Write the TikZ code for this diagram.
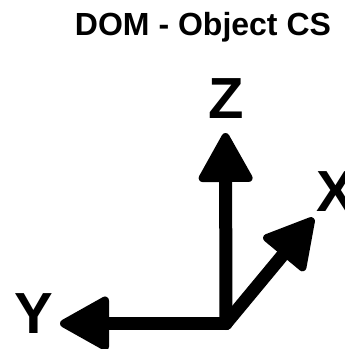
\documentclass[tikz,border=0pt]{standalone}
\usepackage{fontspec}
\setmainfont{Liberation Sans}
\usetikzlibrary{calc}
% shaft from the origin plus a filled, round-cornered triangular head
\newcommand\drawaxis[1]{%
  \coordinate (#1-t) at ($(#1)!4pt!(O)$);
  \coordinate (#1-b) at ($(#1)!45pt!(O)$);
  \draw[shaft] (O) -- (#1-b);
  \filldraw[head] (#1-t) -- ($(#1-b)!23pt!90:(#1)$) -- ($(#1-b)!23pt!-90:(#1)$) -- cycle;
}
\begin{document}
\begin{tikzpicture}[x=1pt,y=-1pt,
  shaft/.style={line width=13pt, line cap=round},
  head/.style={line width=8pt, line join=round},
  axislabel/.style={font=\fontsize{58}{58}\selectfont\bfseries, inner sep=0pt},
  title/.style={font=\fontsize{32}{32}\selectfont\bfseries, inner sep=0pt, anchor=base}]
\useasboundingbox (0,0) rectangle (345,349);

% title
\node[title] (title) at (203,35) {DOM - Object CS};

% origin and axis tips
\coordinate (O) at (226,323.5);
\coordinate (Ztip) at (225.5,133);
\coordinate (Xtip) at (313.5,218);
\coordinate (Ytip) at (60,323.5);

% axes
\drawaxis{Ztip}
\drawaxis{Xtip}
\drawaxis{Ytip}

% axis labels
\node[axislabel] (zl) at (226.7,99) {Z};
\node[axislabel] (xl) at (336,192) {X};
\node[axislabel] (yl) at (33.5,314) {Y};
\end{tikzpicture}
\end{document}
